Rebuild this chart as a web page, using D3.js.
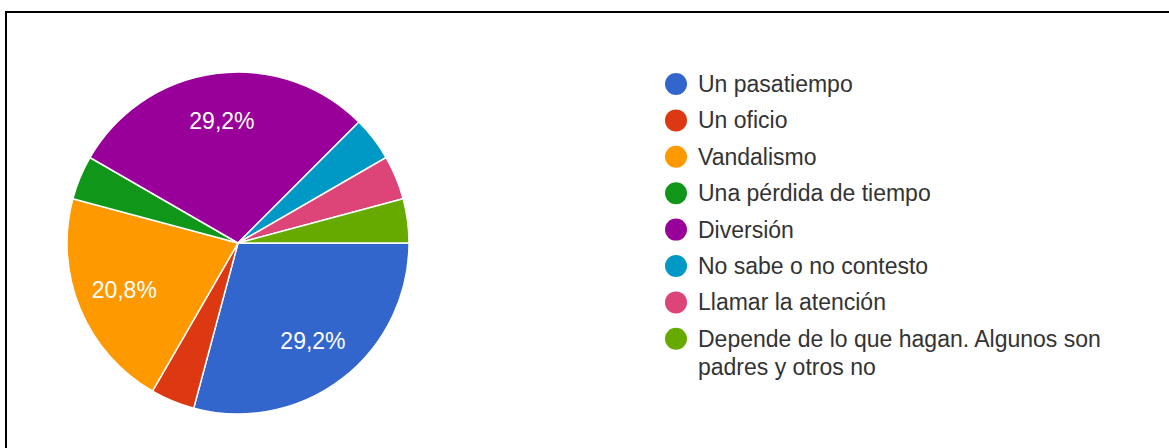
<!DOCTYPE html>
<html>
<head>
<meta charset="utf-8">
<script src="https://cdn.jsdelivr.net/npm/d3@7"></script>
<style>
  body { margin: 0; background: #fff; }
  svg { display: block; }
</style>
</head>
<body>
<div id="chart"></div>
<script>
// answers and number of responses (24 in total)
var categories = ["Un pasatiempo", "Un oficio", "Vandalismo", "Una pérdida de tiempo",
                  "Diversión", "No sabe o no contesto", "Llamar la atención",
                  "Depende de lo que hagan. Algunos son padres y otros no"];
var counts = [7, 1, 5, 1, 7, 1, 1, 1];
var colors = ["#3366cc", "#dc3912", "#ff9900", "#109618", "#990099", "#0099c6", "#dd4477", "#66aa00"];

var width = 1169, height = 448;
var cx = 238, cy = 243, radius = 171;

var svg = d3.select("#chart")
  .append("svg")
  .attr("width", width)
  .attr("height", height);

// frame (clipped on right and bottom like the screenshot)
svg.append("path")
  .attr("d", "M6," + height + "V12H" + width)
  .attr("fill", "none")
  .attr("stroke", "#000")
  .attr("stroke-width", 2);

var data = categories.map(function(c, i) { return {name: c, value: counts[i], color: colors[i]}; });
var total = d3.sum(counts);

var pie = d3.pie()
  .sort(null)
  .value(function(d) { return d.value; })
  .startAngle(Math.PI / 2)
  .endAngle(Math.PI / 2 + 2 * Math.PI);

var arc = d3.arc().innerRadius(0).outerRadius(radius);
var labelArc = d3.arc().innerRadius(radius * 0.72).outerRadius(radius * 0.72);

var g = svg.append("g").attr("transform", "translate(" + cx + "," + cy + ")");

var arcs = pie(data);

g.selectAll("path")
  .data(arcs)
  .enter()
  .append("path")
  .attr("d", arc)
  .attr("fill", function(d) { return d.data.color; })
  .attr("stroke", "#fff")
  .attr("stroke-width", 1.5);

var fmt = function(v) { return (v * 100).toFixed(1).replace(".", ",") + "%"; };

g.selectAll("text.lbl")
  .data(arcs.filter(function(d) { return d.data.value / total > 0.1; }))
  .enter()
  .append("text")
  .attr("class", "lbl")
  .attr("transform", function(d) { return "translate(" + labelArc.centroid(d) + ")"; })
  .attr("text-anchor", "middle")
  .attr("dominant-baseline", "central")
  .attr("font-family", "'Liberation Sans', Arial, sans-serif")
  .attr("font-size", "23px")
  .attr("fill", "#fff")
  .text(function(d) { return fmt(d.data.value / total); });

// legend
var legendX = 676, legendY = 84, rowH = 36.4;
var legend = svg.append("g");

var rows = legend.selectAll("g")
  .data(data)
  .enter()
  .append("g")
  .attr("transform", function(d, i) { return "translate(" + legendX + "," + (legendY + i * rowH) + ")"; });

rows.append("circle")
  .attr("r", 11)
  .attr("fill", function(d) { return d.color; });

rows.each(function(d) {
  var t = d3.select(this).append("text")
    .attr("x", 22)
    .attr("y", 8)
    .attr("font-family", "'Liberation Sans', Arial, sans-serif")
    .attr("font-size", "23px")
    .attr("fill", "#333");
  // wrap long labels at ~410px
  var words = d.name.split(" "), line = [], lines = [];
  var probe = t.append("tspan");
  words.forEach(function(w) {
    line.push(w);
    probe.text(line.join(" "));
    if (probe.node().getComputedTextLength() > 410 && line.length > 1) {
      line.pop();
      lines.push(line.join(" "));
      line = [w];
    }
  });
  lines.push(line.join(" "));
  probe.remove();
  lines.forEach(function(l, k) {
    t.append("tspan").attr("x", 22).attr("dy", k === 0 ? 0 : 28).text(l);
  });
});
</script>
</body>
</html>
